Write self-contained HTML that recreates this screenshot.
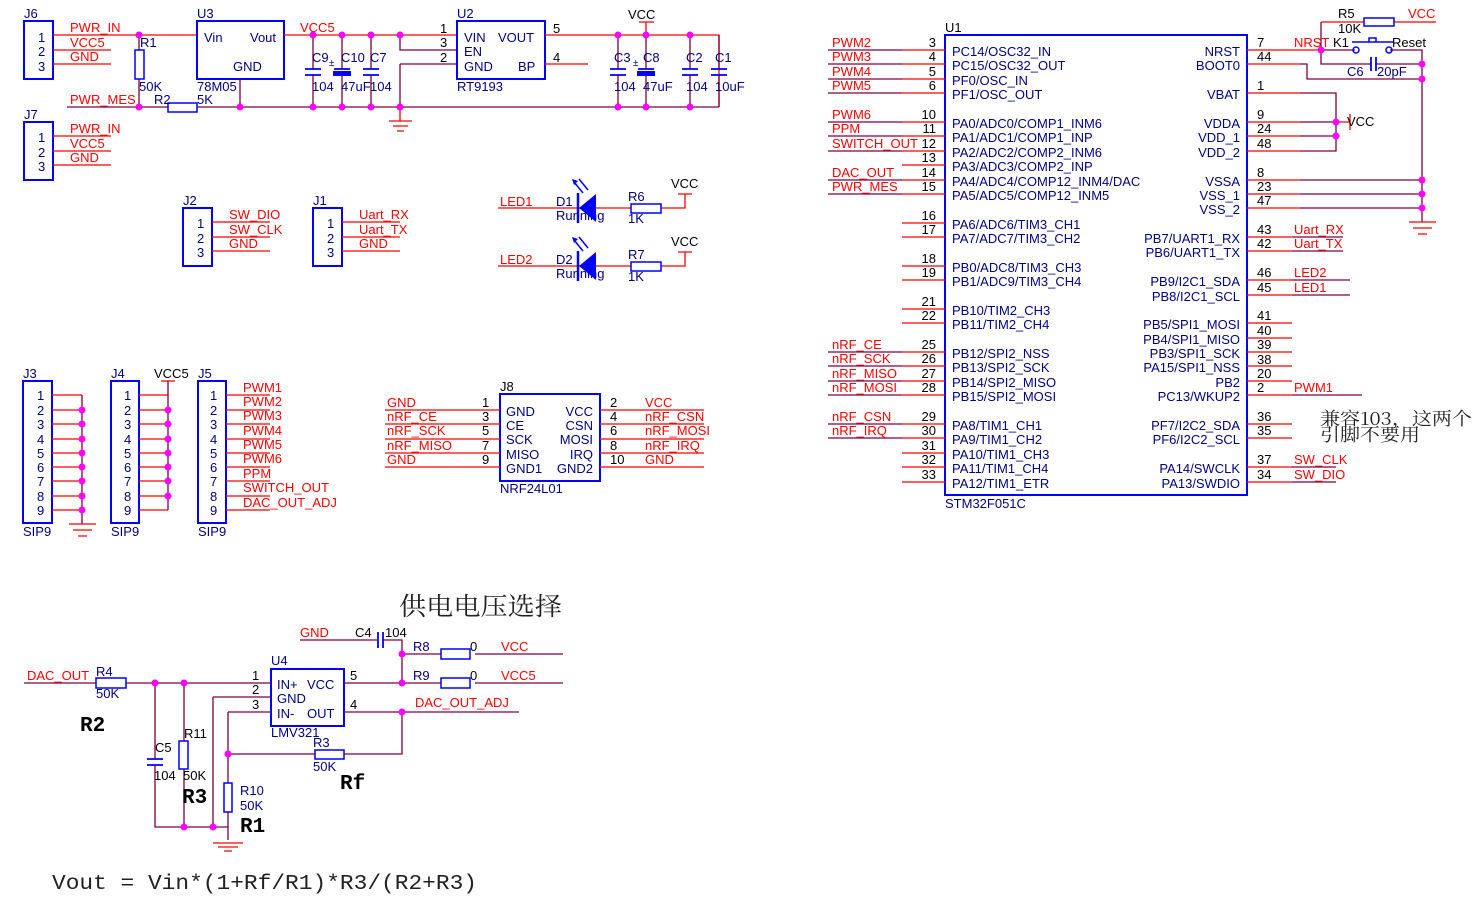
<!DOCTYPE html>
<html><head><meta charset="utf-8"><style>
html,body{margin:0;padding:0;background:#fff}
svg{display:block}
text{font-family:"Liberation Sans",sans-serif;font-size:13px}
.r{fill:#ff0000}.b{fill:#000080}.k{fill:#000}
.w{stroke:#ff0000;stroke-width:1.3;fill:none}
.m{stroke:#800040;stroke-width:1.3;fill:none}
.bx{stroke:#0000ff;stroke-width:2;fill:none}
.bf{stroke:#0000ff;stroke-width:1.5;fill:#fff}
.d{fill:#ff00ff}
.cp{stroke:#0000ff;stroke-width:1.8}
.bold{font-family:"Liberation Mono",monospace;font-weight:bold;font-size:21px;fill:#000}
</style></head><body>
<svg width="1481" height="908" viewBox="0 0 1481 908" xmlns="http://www.w3.org/2000/svg">

<!-- ===== J6 ===== -->
<rect x="24" y="21" width="29" height="58" class="bx"/>
<text x="24" y="18" class="b">J6</text>
<text x="38" y="42" class="b">1</text><text x="38" y="56" class="b">2</text><text x="38" y="71" class="b">3</text>
<path d="M53 35H197M53 50H111M53 64H111" class="w"/>
<text x="70" y="32" class="r">PWR_IN</text><text x="70" y="47" class="r">VCC5</text><text x="70" y="61" class="r">GND</text>
<path d="M139 35V50M139 79V107" class="m"/>
<rect x="135" y="50" width="9" height="29" class="bf"/>
<text x="140" y="47" class="b">R1</text><text x="139" y="91" class="b">50K</text>
<path d="M67 107H168M197 107H719" class="m"/>
<text x="70" y="104" class="r">PWR_MES</text>
<rect x="168" y="103" width="29" height="9" class="bf"/>
<text x="154" y="104" class="b">R2</text><text x="197" y="104" class="b">5K</text>
<rect x="197" y="21" width="87" height="58" class="bx"/>
<text x="197" y="18" class="b">U3</text>
<text x="204" y="42" class="b">Vin</text><text x="250" y="42" class="b">Vout</text><text x="233" y="71" class="b">GND</text>
<text x="197" y="91" class="b">78M05</text>
<path d="M240 79V107" class="m"/>
<path d="M284 35H457" class="w"/>
<text x="300" y="32" class="r">VCC5</text>
<path d="M313 35V69M313 75V107M342 35V69M342 75V107M371 35V69M371 75V107" class="m"/>
<path d="M305 69H321M305 75H321M363 69H379M363 75H379" class="cp"/>
<path d="M334 69H350" class="cp"/><rect x="333" y="71" width="18" height="5" fill="#0000ff"/>
<text x="329" y="66" class="b" style="font-size:10px">±</text>
<text x="312" y="62" class="b">C9</text><text x="341" y="62" class="b">C10</text><text x="370" y="62" class="b">C7</text>
<text x="312" y="91" class="b">104</text><text x="341" y="91" class="b">47uF</text><text x="370" y="91" class="b">104</text>
<path d="M400 35V50H457M400 64H457M400 64V107" class="m"/>
<path d="M400 107V121M389 121H412M393 126H408M397 131H404" class="w"/>
<text x="440" y="33" class="k">1</text><text x="440" y="47" class="k">3</text><text x="440" y="62" class="k">2</text>
<rect x="457" y="21" width="88" height="58" class="bx"/>
<text x="457" y="18" class="b">U2</text>
<text x="464" y="42" class="b">VIN</text><text x="498" y="42" class="b">VOUT</text>
<text x="464" y="56" class="b">EN</text><text x="464" y="71" class="b">GND</text><text x="518" y="71" class="b">BP</text>
<text x="457" y="91" class="b">RT9193</text>
<path d="M545 35H719V107M545 64H588" class="w"/>
<text x="553" y="33" class="k">5</text><text x="553" y="62" class="k">4</text>
<path d="M646 35V22M639 22H654" class="w"/><text x="628" y="19" class="k">VCC</text>
<path d="M618 35V69M618 75V107M646 35V69M646 75V107M690 35V69M690 75V107M719 35V69M719 75V107" class="m"/>
<path d="M610 69H626M610 75H626M682 69H698M682 75H698M711 69H727M711 75H727" class="cp"/>
<path d="M638 69H654" class="cp"/><rect x="637" y="71" width="18" height="5" fill="#0000ff"/>
<text x="633" y="66" class="b" style="font-size:10px">±</text>
<text x="614" y="62" class="b">C3</text><text x="643" y="62" class="b">C8</text><text x="686" y="62" class="b">C2</text><text x="715" y="62" class="b">C1</text>
<text x="614" y="91" class="b">104</text><text x="643" y="91" class="b">47uF</text><text x="686" y="91" class="b">104</text><text x="715" y="91" class="b">10uF</text>
<g class="d"><circle cx="139" cy="35" r="3.5"/><circle cx="139" cy="107" r="3.5"/><circle cx="240" cy="107" r="3.5"/>
<circle cx="313" cy="35" r="3.5"/><circle cx="342" cy="35" r="3.5"/><circle cx="371" cy="35" r="3.5"/><circle cx="400" cy="35" r="3.5"/>
<circle cx="313" cy="107" r="3.5"/><circle cx="342" cy="107" r="3.5"/><circle cx="371" cy="107" r="3.5"/><circle cx="400" cy="107" r="3.5"/>
<circle cx="618" cy="35" r="3.5"/><circle cx="646" cy="35" r="3.5"/><circle cx="690" cy="35" r="3.5"/>
<circle cx="618" cy="107" r="3.5"/><circle cx="646" cy="107" r="3.5"/><circle cx="690" cy="107" r="3.5"/></g>

<!-- ===== J7 ===== -->
<rect x="24" y="122" width="29" height="58" class="bx"/>
<text x="24" y="119" class="b">J7</text>
<text x="38" y="142" class="b">1</text><text x="38" y="157" class="b">2</text><text x="38" y="171" class="b">3</text>
<path d="M53 136H111M53 151H111M53 165H111" class="w"/>
<text x="70" y="133" class="r">PWR_IN</text><text x="70" y="148" class="r">VCC5</text><text x="70" y="162" class="r">GND</text>

<!-- ===== J2 / J1 ===== -->
<rect x="183" y="208" width="29" height="58" class="bx"/>
<text x="183" y="205" class="b">J2</text>
<text x="197" y="228" class="b">1</text><text x="197" y="243" class="b">2</text><text x="197" y="257" class="b">3</text>
<path d="M212 222H270M212 237H270M212 251H270" class="w"/>
<text x="229" y="219" class="r">SW_DIO</text><text x="229" y="234" class="r">SW_CLK</text><text x="229" y="248" class="r">GND</text>
<rect x="313" y="208" width="29" height="58" class="bx"/>
<text x="313" y="205" class="b">J1</text>
<text x="327" y="228" class="b">1</text><text x="327" y="243" class="b">2</text><text x="327" y="257" class="b">3</text>
<path d="M342 222H400M342 237H400M342 251H400" class="w"/>
<text x="359" y="219" class="r">Uart_RX</text><text x="359" y="234" class="r">Uart_TX</text><text x="359" y="248" class="r">GND</text>

<!-- ===== LEDs ===== -->
<g>
<path d="M498 208H631M661 208H685V194M678 194H692" class="w"/>
<text x="500" y="206" class="r">LED1</text><text x="556" y="206" class="b">D1</text><text x="556" y="220" class="b">Running</text>
<polygon points="596,194 596,222 579,208" fill="#0000ff"/><path d="M578 193V223" stroke="#0000ff" stroke-width="2.5"/>
<path d="M583 193L574 182M588 190L579 179" stroke="#0000ff" stroke-width="1.5"/>
<polygon points="572,179 578,181 574,185" fill="#0000ff"/>
<rect x="631" y="204" width="30" height="9" class="bf"/>
<text x="628" y="201" class="b">R6</text><text x="628" y="223" class="b">1K</text>
<text x="671" y="188" class="k">VCC</text>
</g>
<g transform="translate(0,58)">
<path d="M498 208H631M661 208H685V194M678 194H692" class="w"/>
<text x="500" y="206" class="r">LED2</text><text x="556" y="206" class="b">D2</text><text x="556" y="220" class="b">Running</text>
<polygon points="596,194 596,222 579,208" fill="#0000ff"/><path d="M578 193V223" stroke="#0000ff" stroke-width="2.5"/>
<path d="M583 193L574 182M588 190L579 179" stroke="#0000ff" stroke-width="1.5"/>
<polygon points="572,179 578,181 574,185" fill="#0000ff"/>
<rect x="631" y="204" width="30" height="9" class="bf"/>
<text x="628" y="201" class="b">R7</text><text x="628" y="223" class="b">1K</text>
<text x="671" y="188" class="k">VCC</text>
</g>

<!-- ===== J3 J4 J5 ===== -->
<rect x="23" y="381" width="29" height="142" class="bx"/>
<text x="23" y="378" class="b">J3</text><text x="23" y="536" class="b">SIP9</text>
<rect x="111" y="381" width="28" height="142" class="bx"/>
<text x="111" y="378" class="b">J4</text><text x="111" y="536" class="b">SIP9</text>
<rect x="198" y="381" width="28" height="142" class="bx"/>
<text x="198" y="378" class="b">J5</text><text x="198" y="536" class="b">SIP9</text>
<g class="b">
<text x="37" y="400">1</text><text x="37" y="415">2</text><text x="37" y="429">3</text><text x="37" y="444">4</text><text x="37" y="458">5</text><text x="37" y="472">6</text><text x="37" y="486">7</text><text x="37" y="501">8</text><text x="37" y="515">9</text>
<text x="124" y="400">1</text><text x="124" y="415">2</text><text x="124" y="429">3</text><text x="124" y="444">4</text><text x="124" y="458">5</text><text x="124" y="472">6</text><text x="124" y="486">7</text><text x="124" y="501">8</text><text x="124" y="515">9</text>
<text x="210" y="400">1</text><text x="210" y="415">2</text><text x="210" y="429">3</text><text x="210" y="444">4</text><text x="210" y="458">5</text><text x="210" y="472">6</text><text x="210" y="486">7</text><text x="210" y="501">8</text><text x="210" y="515">9</text>
</g>
<path d="M52 395H82M52 410H82M52 424H82M52 439H82M52 453H82M52 467H82M52 481H82M52 496H82M52 510H82" class="w"/>
<path d="M82 395V524" class="m"/>
<path d="M69 524H96M73 530H92M78 536H87" class="w"/>
<path d="M139 395H168M139 410H168M139 424H168M139 439H168M139 453H168M139 467H168M139 481H168M139 496H168M139 510H168" class="w"/>
<path d="M168 381V510" class="m"/><path d="M161 381H175" class="w"/>
<text x="154" y="378" class="k">VCC5</text>
<path d="M226 395H270M226 410H270M226 424H270M226 439H270M226 453H270M226 467H270M226 481H270M226 496H270M226 510H270" class="w"/>
<g class="r"><text x="243" y="392">PWM1</text><text x="243" y="406">PWM2</text><text x="243" y="420">PWM3</text><text x="243" y="435">PWM4</text><text x="243" y="449">PWM5</text><text x="243" y="463">PWM6</text><text x="243" y="478">PPM</text><text x="243" y="492">SWITCH_OUT</text><text x="243" y="507">DAC_OUT_ADJ</text></g>
<g class="d">
<circle cx="82" cy="410" r="3.5"/><circle cx="82" cy="424" r="3.5"/><circle cx="82" cy="439" r="3.5"/><circle cx="82" cy="453" r="3.5"/><circle cx="82" cy="467" r="3.5"/><circle cx="82" cy="481" r="3.5"/><circle cx="82" cy="496" r="3.5"/><circle cx="82" cy="510" r="3.5"/>
<circle cx="168" cy="410" r="3.5"/><circle cx="168" cy="424" r="3.5"/><circle cx="168" cy="439" r="3.5"/><circle cx="168" cy="453" r="3.5"/><circle cx="168" cy="467" r="3.5"/><circle cx="168" cy="481" r="3.5"/><circle cx="168" cy="496" r="3.5"/></g>

<!-- ===== J8 ===== -->
<rect x="500" y="394" width="100" height="87" class="bx"/>
<text x="500" y="391" class="k">J8</text><text x="500" y="493" class="b">NRF24L01</text>
<path d="M385 410H500M385 424H500M385 439H500M385 453H500M385 467H500" class="w"/>
<path d="M600 410H704M600 424H704M600 439H704M600 453H704M600 467H704" class="w"/>
<g class="r"><text x="387" y="407">GND</text><text x="387" y="421">nRF_CE</text><text x="387" y="435">nRF_SCK</text><text x="387" y="450">nRF_MISO</text><text x="387" y="464">GND</text>
<text x="645" y="407">VCC</text><text x="645" y="421">nRF_CSN</text><text x="645" y="435">nRF_MOSI</text><text x="645" y="450">nRF_IRQ</text><text x="645" y="464">GND</text></g>
<g class="k"><text x="482" y="407">1</text><text x="482" y="421">3</text><text x="482" y="435">5</text><text x="482" y="450">7</text><text x="482" y="464">9</text>
<text x="610" y="407">2</text><text x="610" y="421">4</text><text x="610" y="435">6</text><text x="610" y="450">8</text><text x="610" y="464">10</text></g>
<g class="b"><text x="506" y="416">GND</text><text x="506" y="430">CE</text><text x="506" y="444">SCK</text><text x="506" y="459">MISO</text><text x="506" y="473">GND1</text>
<g text-anchor="end"><text x="593" y="416">VCC</text><text x="593" y="430">CSN</text><text x="593" y="444">MOSI</text><text x="593" y="459">IRQ</text><text x="593" y="473">GND2</text></g></g>

<!-- ===== U1 ===== -->
<rect x="945" y="35" width="302" height="460" class="bx"/>
<text x="945" y="32" class="k">U1</text><text x="945" y="508" class="b">STM32F051C</text>
<path d="M902 50H945M902 64H945M902 79H945M902 93H945M902 122H945M902 136H945M902 151H945M902 165H945M902 180H945M902 194H945M902 223H945M902 237H945M902 266H945M902 280H945M902 309H945M902 323H945M902 352H945M902 366H945M902 381H945M902 395H945M902 424H945M902 438H945M902 453H945M902 467H945M902 482H945" class="w"/>
<path d="M828 50H902M828 64H902M828 79H902M828 93H902M828 122H902M828 136H902M828 151H902M828 180H902M828 194H902M828 352H902M828 366H902M828 381H902M828 395H902M828 424H902M828 438H902" class="m"/>
<g class="r"><text x="832" y="47">PWM2</text><text x="832" y="61">PWM3</text><text x="832" y="76">PWM4</text><text x="832" y="90">PWM5</text><text x="832" y="119">PWM6</text><text x="832" y="133">PPM</text><text x="832" y="148">SWITCH_OUT</text><text x="832" y="177">DAC_OUT</text><text x="832" y="191">PWR_MES</text>
<text x="832" y="349">nRF_CE</text><text x="832" y="363">nRF_SCK</text><text x="832" y="378">nRF_MISO</text><text x="832" y="392">nRF_MOSI</text><text x="832" y="421">nRF_CSN</text><text x="832" y="435">nRF_IRQ</text></g>
<g class="k" text-anchor="end"><text x="936" y="47">3</text><text x="936" y="61">4</text><text x="936" y="76">5</text><text x="936" y="90">6</text><text x="936" y="119">10</text><text x="936" y="133">11</text><text x="936" y="148">12</text><text x="936" y="162">13</text><text x="936" y="177">14</text><text x="936" y="191">15</text><text x="936" y="220">16</text><text x="936" y="234">17</text><text x="936" y="263">18</text><text x="936" y="277">19</text><text x="936" y="306">21</text><text x="936" y="320">22</text><text x="936" y="349">25</text><text x="936" y="363">26</text><text x="936" y="378">27</text><text x="936" y="392">28</text><text x="936" y="421">29</text><text x="936" y="435">30</text><text x="936" y="450">31</text><text x="936" y="464">32</text><text x="936" y="479">33</text></g>
<g class="b"><text x="952" y="56">PC14/OSC32_IN</text><text x="952" y="70">PC15/OSC32_OUT</text><text x="952" y="85">PF0/OSC_IN</text><text x="952" y="99">PF1/OSC_OUT</text><text x="952" y="128">PA0/ADC0/COMP1_INM6</text><text x="952" y="142">PA1/ADC1/COMP1_INP</text><text x="952" y="157">PA2/ADC2/COMP2_INM6</text><text x="952" y="171">PA3/ADC3/COMP2_INP</text><text x="952" y="186">PA4/ADC4/COMP12_INM4/DAC</text><text x="952" y="200">PA5/ADC5/COMP12_INM5</text><text x="952" y="229">PA6/ADC6/TIM3_CH1</text><text x="952" y="243">PA7/ADC7/TIM3_CH2</text><text x="952" y="272">PB0/ADC8/TIM3_CH3</text><text x="952" y="286">PB1/ADC9/TIM3_CH4</text><text x="952" y="315">PB10/TIM2_CH3</text><text x="952" y="329">PB11/TIM2_CH4</text><text x="952" y="358">PB12/SPI2_NSS</text><text x="952" y="372">PB13/SPI2_SCK</text><text x="952" y="387">PB14/SPI2_MISO</text><text x="952" y="401">PB15/SPI2_MOSI</text><text x="952" y="430">PA8/TIM1_CH1</text><text x="952" y="444">PA9/TIM1_CH2</text><text x="952" y="459">PA10/TIM1_CH3</text><text x="952" y="473">PA11/TIM1_CH4</text><text x="952" y="488">PA12/TIM1_ETR</text></g>
<g class="b" text-anchor="end"><text x="1240" y="56">NRST</text><text x="1240" y="70">BOOT0</text><text x="1240" y="99">VBAT</text><text x="1240" y="128">VDDA</text><text x="1240" y="142">VDD_1</text><text x="1240" y="157">VDD_2</text><text x="1240" y="186">VSSA</text><text x="1240" y="200">VSS_1</text><text x="1240" y="214">VSS_2</text><text x="1240" y="243">PB7/UART1_RX</text><text x="1240" y="257">PB6/UART1_TX</text><text x="1240" y="286">PB9/I2C1_SDA</text><text x="1240" y="301">PB8/I2C1_SCL</text><text x="1240" y="329">PB5/SPI1_MOSI</text><text x="1240" y="344">PB4/SPI1_MISO</text><text x="1240" y="358">PB3/SPI1_SCK</text><text x="1240" y="372">PA15/SPI1_NSS</text><text x="1240" y="387">PB2</text><text x="1240" y="401">PC13/WKUP2</text><text x="1240" y="430">PF7/I2C2_SDA</text><text x="1240" y="444">PF6/I2C2_SCL</text><text x="1240" y="473">PA14/SWCLK</text><text x="1240" y="488">PA13/SWDIO</text></g>
<g class="k"><text x="1257" y="47">7</text><text x="1257" y="61">44</text><text x="1257" y="90">1</text><text x="1257" y="119">9</text><text x="1257" y="133">24</text><text x="1257" y="148">48</text><text x="1257" y="177">8</text><text x="1257" y="191">23</text><text x="1257" y="205">47</text><text x="1257" y="234">43</text><text x="1257" y="248">42</text><text x="1257" y="277">46</text><text x="1257" y="292">45</text><text x="1257" y="320">41</text><text x="1257" y="335">40</text><text x="1257" y="349">39</text><text x="1257" y="364">38</text><text x="1257" y="378">20</text><text x="1257" y="392">2</text><text x="1257" y="421">36</text><text x="1257" y="435">35</text><text x="1257" y="464">37</text><text x="1257" y="479">34</text></g>
<path d="M1247 50H1321M1247 64H1300M1247 93H1300M1247 122H1300M1247 136H1300M1247 151H1300M1247 180H1300M1247 194H1300M1247 208H1300M1247 237H1292M1247 251H1292M1247 280H1292M1247 295H1292M1247 323H1292M1247 338H1292M1247 352H1292M1247 366H1292M1247 381H1292M1247 395H1292M1247 424H1292M1247 438H1292M1247 467H1292M1247 482H1292" class="w"/>
<path d="M1292 237H1343M1292 251H1343M1292 280H1350M1292 295H1350M1292 395H1362M1292 467H1336M1292 482H1336" class="m"/>
<g class="r"><text x="1294" y="47">NRST</text><text x="1294" y="234">Uart_RX</text><text x="1294" y="248">Uart_TX</text><text x="1294" y="277">LED2</text><text x="1294" y="292">LED1</text><text x="1294" y="392">PWM1</text><text x="1294" y="464">SW_CLK</text><text x="1294" y="479">SW_DIO</text></g>
<path d="M1300 64H1307V79H1422M1300 93H1336V151H1300M1300 122H1336M1300 136H1336M1300 180H1422M1300 194H1422M1300 208H1422M1321 22V64H1371M1376 64H1422M1390 50H1422V222M1321 50H1355" class="m"/>
<path d="M1321 22H1364M1394 22H1436M1336 122H1350M1350 114V130" class="w"/>
<path d="M1409 222H1436M1413 228H1432M1418 234H1427" class="w"/>
<rect x="1364" y="18" width="30" height="8" class="bf"/>
<text x="1338" y="18" class="k">R5</text><text x="1338" y="33" class="k">10K</text><text x="1408" y="18" class="r">VCC</text>
<text x="1347" y="126" class="k">VCC</text>
<path d="M1371 57V71M1376 57V71" class="cp"/>
<text x="1347" y="76" class="b">C6</text><text x="1377" y="76" class="b">20pF</text>
<circle cx="1356" cy="50" r="3" fill="none" stroke="#0000ff" stroke-width="1.5"/><circle cx="1389" cy="50" r="3" fill="none" stroke="#0000ff" stroke-width="1.5"/>
<path d="M1352 42H1393M1369 42V38H1376V42" stroke="#0000ff" stroke-width="1.5" fill="none"/>
<text x="1333" y="47" class="k">K1</text><text x="1392" y="47" class="k">Reset</text>
<g class="d"><circle cx="1321" cy="50" r="3.5"/><circle cx="1422" cy="64" r="3.5"/><circle cx="1422" cy="79" r="3.5"/><circle cx="1336" cy="122" r="3.5"/><circle cx="1336" cy="136" r="3.5"/><circle cx="1422" cy="180" r="3.5"/><circle cx="1422" cy="194" r="3.5"/><circle cx="1422" cy="208" r="3.5"/></g>
<text x="1320" y="425" textLength="152" lengthAdjust="spacingAndGlyphs" style="font-family:'Noto Serif CJK SC','Liberation Serif',serif;font-size:18px" fill="#222">兼容103，这两个</text>
<text x="1320" y="441" textLength="100" lengthAdjust="spacingAndGlyphs" style="font-family:'Noto Serif CJK SC','Liberation Serif',serif;font-size:18px" fill="#222">引脚不要用</text>

<!-- ===== Bottom opamp ===== -->
<text x="399" y="615" textLength="163" lengthAdjust="spacingAndGlyphs" style="font-family:'Noto Serif CJK SC',serif;font-size:25px" fill="#222">供电电压选择</text>
<path d="M300 640H378M383 640H402V683M402 654H446M475 654H563M402 683H446M475 683H563" class="m"/>
<path d="M378 632V648M383 632V648" class="cp"/>
<text x="300" y="637" class="r">GND</text><text x="355" y="637" class="k">C4</text><text x="385" y="637" class="k">104</text>
<rect x="441" y="649" width="29" height="10" class="bf"/><rect x="441" y="678" width="29" height="10" class="bf"/>
<text x="413" y="651" class="b">R8</text><text x="470" y="651" class="k">0</text><text x="501" y="651" class="r">VCC</text>
<text x="413" y="680" class="b">R9</text><text x="470" y="680" class="k">0</text><text x="501" y="680" class="r">VCC5</text>
<path d="M24 683H96M126 683H271M344 683H402M213 697H271M228 712H271M344 712H519M213 697V827M228 712V783M228 812V840M155 683V759M155 765V827H228M184 683V741M184 769V827M228 754H315M344 754H402V712" class="m"/>
<path d="M213 843H243M218 847H238M224 851H232" class="w"/>
<text x="27" y="680" class="r">DAC_OUT</text>
<rect x="96" y="678" width="30" height="10" class="bf"/>
<text x="96" y="676" class="b">R4</text><text x="96" y="698" class="b">50K</text>
<rect x="271" y="669" width="73" height="57" class="bx"/>
<text x="271" y="665" class="b">U4</text><text x="271" y="737" class="b">LMV321</text>
<g class="b"><text x="277" y="689">IN+</text><text x="307" y="689">VCC</text><text x="277" y="703">GND</text><text x="277" y="718">IN-</text><text x="307" y="718">OUT</text></g>
<g class="k"><text x="252" y="680">1</text><text x="252" y="694">2</text><text x="252" y="709">3</text><text x="350" y="680">5</text><text x="350" y="709">4</text></g>
<text x="415" y="707" class="r">DAC_OUT_ADJ</text>
<path d="M147 759H163M147 765H163" class="cp"/>
<text x="155" y="752" class="k">C5</text><text x="154" y="780" class="k">104</text>
<rect x="179" y="741" width="9" height="28" class="bf"/>
<text x="184" y="738" class="k">R11</text><text x="183" y="780" class="k">50K</text>
<rect x="224" y="783" width="8" height="29" class="bf"/>
<text x="240" y="795" class="b">R10</text><text x="240" y="810" class="b">50K</text>
<rect x="315" y="750" width="29" height="9" class="bf"/>
<text x="313" y="747" class="b">R3</text><text x="313" y="771" class="b">50K</text>
<g class="d"><circle cx="155" cy="683" r="3.5"/><circle cx="184" cy="683" r="3.5"/><circle cx="402" cy="654" r="3.5"/><circle cx="402" cy="683" r="3.5"/><circle cx="402" cy="712" r="3.5"/><circle cx="228" cy="754" r="3.5"/><circle cx="184" cy="827" r="3.5"/><circle cx="213" cy="827" r="3.5"/></g>
<text x="80" y="731" class="bold">R2</text><text x="182" y="803" class="bold">R3</text><text x="240" y="832" class="bold">R1</text><text x="340" y="789" class="bold">Rf</text>
<text x="52" y="889" textLength="425" lengthAdjust="spacingAndGlyphs" style="font-family:'Liberation Mono',monospace;font-size:21px" fill="#222">Vout = Vin*(1+Rf/R1)*R3/(R2+R3)</text>
</svg>
</body></html>
